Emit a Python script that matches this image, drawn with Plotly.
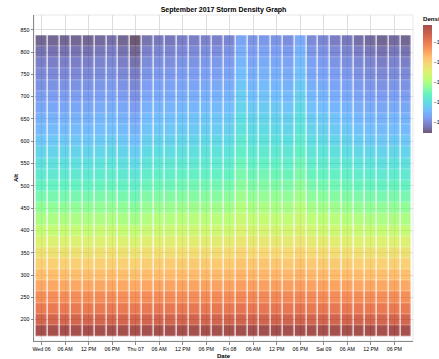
import plotly.graph_objects as go
from plotly import colors as pc

# Altitude bins (row centres) and 3-hour time bins (column centres)
alt = [175, 200, 225, 250, 275, 300, 325, 350, 375, 400, 425, 450, 475, 500,
       525, 550, 575, 600, 625, 650, 675, 700, 725, 750, 775, 800, 825]

days = ["2017-09-06", "2017-09-07", "2017-09-08", "2017-09-09"]
hours = ["00:00", "03:00", "06:00", "09:00", "12:00", "15:00", "18:00", "21:00"]
time_bins = [f"{d} {h}" for d in days for h in hours]

# log10 density, one row per altitude bin (bottom to top), one value per time bin
density = [
    [-9.20, -9.20, -9.20, -9.20, -9.20, -9.20, -9.19, -9.20, -9.21, -9.19, -9.19, -9.19, -9.19, -9.19, -9.18, -9.18, -9.18, -9.16, -9.17, -9.17, -9.17, -9.18, -9.16, -9.18, -9.18, -9.19, -9.19, -9.19, -9.20, -9.20, -9.20, -9.20],
    [-9.69, -9.69, -9.69, -9.69, -9.69, -9.69, -9.68, -9.69, -9.70, -9.68, -9.68, -9.68, -9.67, -9.67, -9.67, -9.67, -9.67, -9.65, -9.66, -9.66, -9.66, -9.66, -9.64, -9.67, -9.67, -9.67, -9.68, -9.68, -9.69, -9.69, -9.69, -9.69],
    [-10.01, -10.01, -10.01, -10.01, -10.01, -10.01, -10.00, -10.01, -10.02, -10.00, -9.99, -9.99, -9.99, -9.99, -9.99, -9.99, -9.98, -9.95, -9.97, -9.97, -9.97, -9.97, -9.95, -9.98, -9.98, -9.99, -9.99, -10.00, -10.01, -10.01, -10.01, -10.01],
    [-10.28, -10.28, -10.28, -10.28, -10.28, -10.27, -10.27, -10.28, -10.30, -10.26, -10.26, -10.26, -10.25, -10.25, -10.24, -10.24, -10.24, -10.20, -10.22, -10.21, -10.22, -10.23, -10.19, -10.23, -10.24, -10.25, -10.26, -10.27, -10.27, -10.28, -10.27, -10.28],
    [-10.53, -10.53, -10.53, -10.53, -10.53, -10.52, -10.51, -10.53, -10.55, -10.51, -10.50, -10.50, -10.49, -10.49, -10.48, -10.48, -10.48, -10.42, -10.45, -10.45, -10.45, -10.46, -10.42, -10.47, -10.48, -10.49, -10.50, -10.51, -10.52, -10.53, -10.52, -10.53],
    [-10.77, -10.77, -10.77, -10.77, -10.77, -10.76, -10.75, -10.77, -10.80, -10.74, -10.73, -10.73, -10.72, -10.72, -10.71, -10.71, -10.70, -10.64, -10.67, -10.67, -10.67, -10.68, -10.63, -10.69, -10.70, -10.72, -10.73, -10.75, -10.76, -10.77, -10.76, -10.77],
    [-10.99, -10.99, -10.99, -10.99, -10.99, -10.98, -10.97, -10.99, -11.02, -10.96, -10.94, -10.94, -10.93, -10.93, -10.92, -10.92, -10.91, -10.83, -10.87, -10.86, -10.87, -10.89, -10.82, -10.90, -10.91, -10.93, -10.94, -10.97, -10.98, -10.99, -10.98, -10.99],
    [-11.23, -11.23, -11.23, -11.23, -11.23, -11.22, -11.20, -11.23, -11.27, -11.19, -11.18, -11.18, -11.16, -11.16, -11.15, -11.15, -11.14, -11.04, -11.09, -11.08, -11.09, -11.11, -11.03, -11.12, -11.14, -11.16, -11.18, -11.20, -11.22, -11.23, -11.22, -11.23],
    [-11.50, -11.50, -11.50, -11.50, -11.50, -11.48, -11.47, -11.50, -11.55, -11.45, -11.44, -11.44, -11.42, -11.42, -11.41, -11.41, -11.39, -11.28, -11.34, -11.33, -11.34, -11.36, -11.27, -11.38, -11.39, -11.42, -11.44, -11.47, -11.48, -11.50, -11.48, -11.50],
    [-11.77, -11.77, -11.77, -11.77, -11.77, -11.75, -11.73, -11.77, -11.82, -11.72, -11.70, -11.70, -11.68, -11.68, -11.66, -11.66, -11.65, -11.52, -11.59, -11.58, -11.59, -11.61, -11.51, -11.63, -11.65, -11.68, -11.70, -11.73, -11.75, -11.77, -11.75, -11.77],
    [-12.01, -12.01, -12.01, -12.01, -12.01, -11.99, -11.97, -12.01, -12.07, -11.95, -11.93, -11.93, -11.91, -11.91, -11.90, -11.90, -11.88, -11.74, -11.82, -11.80, -11.82, -11.84, -11.72, -11.86, -11.88, -11.91, -11.93, -11.97, -11.99, -12.01, -11.99, -12.01],
    [-12.23, -12.23, -12.23, -12.23, -12.23, -12.21, -12.19, -12.23, -12.29, -12.17, -12.15, -12.15, -12.12, -12.12, -12.10, -12.10, -12.08, -11.94, -12.02, -12.00, -12.02, -12.04, -11.91, -12.06, -12.08, -12.12, -12.15, -12.19, -12.21, -12.23, -12.21, -12.23],
    [-12.44, -12.44, -12.44, -12.44, -12.44, -12.42, -12.39, -12.44, -12.51, -12.37, -12.35, -12.35, -12.32, -12.32, -12.30, -12.30, -12.28, -12.12, -12.21, -12.19, -12.21, -12.23, -12.09, -12.26, -12.28, -12.32, -12.35, -12.39, -12.42, -12.44, -12.42, -12.44],
    [-12.63, -12.63, -12.63, -12.63, -12.63, -12.60, -12.58, -12.63, -12.71, -12.55, -12.53, -12.53, -12.50, -12.50, -12.48, -12.48, -12.45, -12.28, -12.38, -12.35, -12.38, -12.40, -12.25, -12.43, -12.45, -12.50, -12.53, -12.58, -12.60, -12.63, -12.60, -12.63],
    [-12.80, -12.80, -12.80, -12.80, -12.80, -12.77, -12.75, -12.80, -12.88, -12.72, -12.69, -12.69, -12.66, -12.66, -12.64, -12.64, -12.61, -12.42, -12.53, -12.50, -12.53, -12.56, -12.39, -12.58, -12.61, -12.66, -12.69, -12.75, -12.77, -12.80, -12.77, -12.80],
    [-12.96, -12.96, -12.96, -12.96, -12.96, -12.93, -12.90, -12.96, -13.05, -12.87, -12.84, -12.84, -12.81, -12.81, -12.79, -12.79, -12.76, -12.55, -12.67, -12.64, -12.67, -12.70, -12.52, -12.73, -12.76, -12.81, -12.84, -12.90, -12.93, -12.96, -12.93, -12.96],
    [-13.12, -13.12, -13.12, -13.12, -13.12, -13.09, -13.06, -13.12, -13.21, -13.03, -13.00, -13.00, -12.96, -12.96, -12.93, -12.93, -12.90, -12.69, -12.81, -12.78, -12.81, -12.84, -12.65, -12.87, -12.90, -12.96, -13.00, -13.06, -13.09, -13.12, -13.09, -13.12],
    [-13.28, -13.28, -13.28, -13.28, -13.28, -13.25, -13.21, -13.28, -13.38, -13.18, -13.15, -13.15, -13.12, -13.12, -13.08, -13.08, -13.05, -12.82, -12.95, -12.92, -12.95, -12.99, -12.79, -13.02, -13.05, -13.12, -13.15, -13.21, -13.25, -13.28, -13.25, -13.28],
    [-13.42, -13.42, -13.42, -13.42, -13.42, -13.39, -13.35, -13.42, -13.52, -13.32, -13.28, -13.28, -13.25, -13.25, -13.21, -13.21, -13.18, -12.94, -13.07, -13.04, -13.07, -13.11, -12.90, -13.14, -13.18, -13.25, -13.28, -13.35, -13.39, -13.42, -13.39, -13.42],
    [-13.52, -13.52, -13.52, -13.52, -13.52, -13.48, -13.45, -13.52, -13.63, -13.41, -13.37, -13.37, -13.34, -13.34, -13.30, -13.30, -13.26, -13.01, -13.15, -13.12, -13.15, -13.19, -12.97, -13.23, -13.26, -13.34, -13.37, -13.45, -13.48, -13.52, -13.48, -13.52],
    [-13.66, -13.66, -13.66, -13.66, -13.66, -13.62, -13.58, -13.66, -13.78, -13.54, -13.51, -13.51, -13.47, -13.47, -13.43, -13.43, -13.39, -13.12, -13.27, -13.24, -13.27, -13.31, -13.08, -13.35, -13.39, -13.47, -13.51, -13.58, -13.62, -13.66, -13.62, -13.66],
    [-13.79, -13.79, -13.79, -13.79, -13.79, -13.75, -13.71, -13.79, -13.91, -13.67, -13.63, -13.63, -13.59, -13.59, -13.55, -13.55, -13.51, -13.22, -13.38, -13.34, -13.38, -13.43, -13.18, -13.47, -13.51, -13.59, -13.63, -13.71, -13.75, -13.79, -13.75, -13.79],
    [-13.90, -13.90, -13.90, -13.90, -13.90, -13.86, -13.81, -13.90, -14.03, -13.77, -13.73, -13.73, -13.69, -13.69, -13.64, -13.64, -13.60, -13.30, -13.47, -13.43, -13.47, -13.52, -13.26, -13.56, -13.60, -13.69, -13.73, -13.81, -13.86, -13.90, -13.86, -13.90],
    [-14.01, -14.01, -14.01, -14.01, -14.01, -13.97, -13.92, -14.01, -14.14, -13.88, -13.83, -13.83, -13.79, -13.79, -13.75, -13.75, -13.70, -13.39, -13.57, -13.53, -13.57, -13.61, -13.35, -13.66, -13.70, -13.79, -13.83, -13.92, -13.97, -14.01, -13.97, -14.01],
    [-14.12, -14.12, -14.12, -14.12, -14.12, -14.07, -14.03, -14.12, -14.26, -13.98, -13.94, -13.94, -13.89, -13.89, -13.84, -13.84, -13.80, -13.48, -13.66, -13.61, -13.66, -13.71, -13.43, -13.75, -13.80, -13.89, -13.94, -14.03, -14.07, -14.12, -14.07, -14.12],
    [-14.25, -14.25, -14.25, -14.25, -14.25, -14.20, -14.15, -14.25, -14.39, -14.11, -14.06, -14.06, -14.01, -14.01, -13.96, -13.96, -13.91, -13.58, -13.77, -13.72, -13.77, -13.82, -13.53, -13.87, -13.91, -14.01, -14.06, -14.15, -14.20, -14.25, -14.20, -14.25],
    [-14.39, -14.39, -14.39, -14.39, -14.39, -14.34, -14.29, -14.39, -14.54, -14.24, -14.19, -14.19, -14.14, -14.14, -14.09, -14.09, -14.04, -13.69, -13.89, -13.84, -13.89, -13.94, -13.64, -13.99, -14.04, -14.14, -14.19, -14.29, -14.34, -14.39, -14.34, -14.39],
]

# Axis tick positions and labels
x_tick_vals = [f"{d} {h}" for d in days for h in ["00:00", "06:00", "12:00", "18:00"]]
x_tick_text = ["Wed 06", "06 AM", "12 PM", "06 PM",
               "Thu 07", "06 AM", "12 PM", "06 PM",
               "Fri 08", "06 AM", "12 PM", "06 PM",
               "Sat 09", "06 AM", "12 PM", "06 PM"]
density_ticks = [-10, -11, -12, -13, -14]

FONT = "Liberation Sans, Arial, Helvetica, sans-serif"


def to_rgba(c, alpha):
    if c.startswith("#"):
        r, g, b = pc.hex_to_rgb(c)
    else:
        r, g, b = [int(float(v)) for v in pc.unlabel_rgb(c)]
    return f"rgba({r},{g},{b},{alpha})"


turbo = pc.sequential.Turbo
turbo_faded = [[i / (len(turbo) - 1), to_rgba(c, 0.7)] for i, c in enumerate(turbo)]

fig = go.Figure(
    go.Heatmap(
        x=time_bins,
        y=alt,
        z=density,
        colorscale=turbo_faded,
        xgap=1.2,
        ygap=0.3,
        colorbar=dict(
            title=dict(text="Density", side="top",
                       font=dict(size=6.1, family=FONT, color="#000", weight="bold")),
            x=1.0264, xanchor="left", xpad=0,
            y=1.0061, yanchor="top", ypad=0,
            len=120, lenmode="pixels",
            thickness=8.5, thicknessmode="pixels",
            outlinewidth=0,
            tickvals=density_ticks,
            ticks="",
            tickfont=dict(size=5.3, family=FONT, color="#000"),
        ),
    )
)

fig.update_layout(
    width=439,
    height=359,
    margin=dict(l=34, r=26, t=15, b=17.5, autoexpand=False),
    paper_bgcolor="white",
    plot_bgcolor="white",
    font=dict(family=FONT, size=5.3, color="#000"),
    title=dict(
        text="September 2017 Storm Density Graph",
        x=0.5, xref="paper", xanchor="center",
        y=1 - 9.5 / 359, yref="container", yanchor="middle",
        font=dict(size=7, family=FONT, color="#000", weight="bold"),
    ),
    shapes=[dict(type="rect", xref="paper", yref="paper", x0=0, x1=1, y0=0, y1=1,
                 line=dict(color="#dddddd", width=0.7), layer="below")],
)

fig.update_xaxes(
    range=["2017-09-05 22:05", "2017-09-09 22:45"],
    tickmode="array", tickvals=x_tick_vals, ticktext=x_tick_text,
    tickangle=0,
    ticks="outside", ticklen=2.7, tickwidth=0.6, tickcolor="#888",
    tickfont=dict(size=5.3, color="#000"),
    showgrid=True, gridcolor="#dddddd", gridwidth=0.6,
    showline=True, linecolor="#888", linewidth=0.6,
    zeroline=False,
    title=dict(text="Date", standoff=3, font=dict(size=6.1, color="#000", weight="bold")),
)

fig.update_yaxes(
    range=[152, 883],
    tickmode="linear", tick0=0, dtick=50,
    ticks="outside", ticklen=2.7, tickwidth=0.6, tickcolor="#888",
    tickfont=dict(size=5.3, color="#000"),
    showgrid=True, gridcolor="#dddddd", gridwidth=0.6,
    showline=True, linecolor="#888", linewidth=0.6,
    zeroline=False,
    title=dict(text="Alt", standoff=1, font=dict(size=6.1, color="#000", weight="bold")),
)

fig.write_html("out.html")
